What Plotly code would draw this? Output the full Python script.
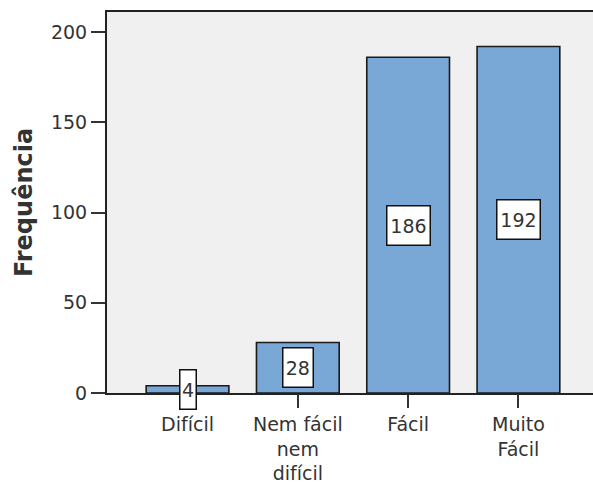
import plotly.graph_objects as go

categories = ["Difícil", "Nem fácil<br>nem<br>difícil", "Fácil", "Muito<br>Fácil"]
frequencies = [4, 28, 186, 192]
y_ticks = [0, 50, 100, 150, 200]
y_title = "Frequência"

FONT = "DejaVu Sans"
TXT = "#333333"

fig = go.Figure()
fig.add_trace(go.Bar(
    x=list(range(len(categories))),
    y=frequencies,
    width=0.75,
    marker=dict(color="#79A8D6", line=dict(color="#1a1a1a", width=1.6)),
    hoverinfo="skip",
))

for i, v in enumerate(frequencies):
    n = len(str(v))
    fig.add_annotation(
        x=i, y=v / 2, xref="x", yref="y",
        text=str(v), showarrow=False,
        font=dict(family=FONT, size=19, color=TXT),
        bgcolor="white", bordercolor="#111111", borderwidth=1.5, borderpad=1,
        width=13.5 * n + 4.5 - 5, height=36,
        align="center", valign="middle",
    )

fig.update_layout(
    width=593, height=486,
    margin=dict(l=107, r=0, t=12, b=93),
    paper_bgcolor="white",
    plot_bgcolor="#F0F0F0",
    showlegend=False,
    bargap=0.25,
    font=dict(family=FONT, size=19, color=TXT),
)

fig.update_xaxes(
    range=[-0.73, 3.676],
    tickmode="array",
    tickvals=list(range(len(categories))),
    ticktext=categories,
    ticks="outside", ticklen=13, tickwidth=2, tickcolor="#333333",
    showline=True, linecolor="#222222", linewidth=2, mirror=True,
    showgrid=False, zeroline=False,
    tickfont=dict(family=FONT, size=19, color=TXT),
    automargin=False,
    fixedrange=True,
)

fig.update_yaxes(
    range=[0, 211.1],
    tickmode="array",
    tickvals=y_ticks,
    ticktext=[str(t) for t in y_ticks],
    ticks="outside", ticklen=14, tickwidth=2, tickcolor="#333333",
    showline=True, linecolor="#222222", linewidth=2,
    showgrid=False, zeroline=False,
    tickfont=dict(family=FONT, size=19, color=TXT),
    title=dict(text=y_title, font=dict(family=FONT, size=24, color=TXT, weight="bold"), standoff=12),
    automargin=False,
    fixedrange=True,
)

fig.write_html(
    "out.html",
    config={"displayModeBar": False},
    post_script="document.body.style.margin='0px';document.body.style.overflow='hidden';",
)
